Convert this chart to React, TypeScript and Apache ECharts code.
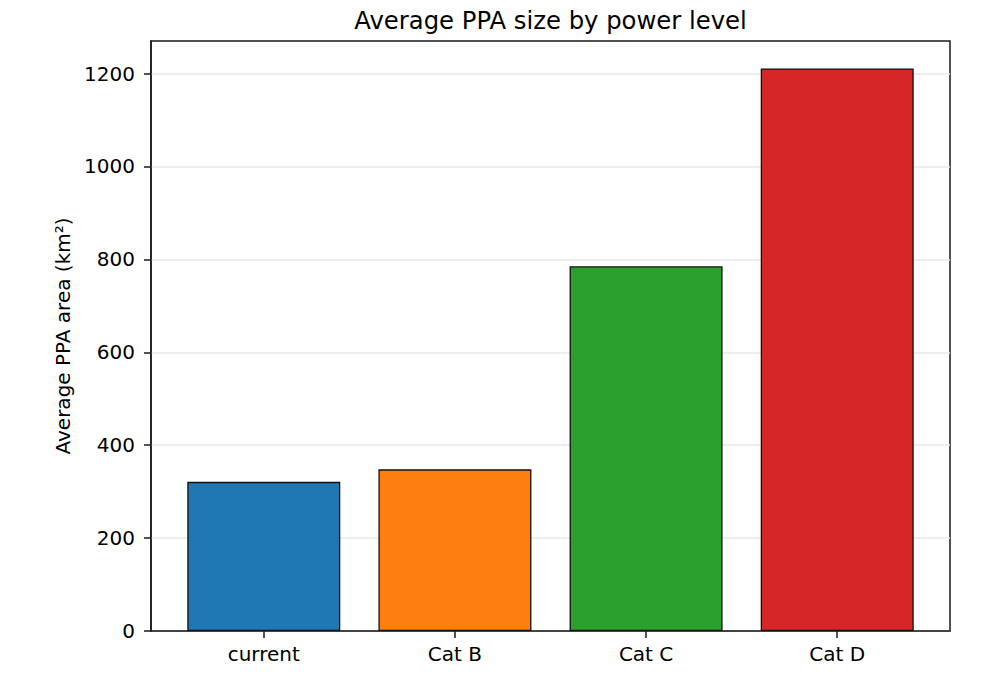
import React, { useEffect, useRef } from "react";
import * as echarts from "echarts";

const categories = ["current", "Cat B", "Cat C", "Cat D"];
const values = [321, 348, 785, 1211];
const colors = ["#1f77b4", "#ff7f0e", "#2ca02c", "#d62728"];
const yTicks = [0, 200, 400, 600, 800, 1000, 1200];
const xTicks = [0, 1, 2, 3];

const FONT = "DejaVu Sans";

export default function App() {
  const ref = useRef<HTMLDivElement>(null);
  useEffect(() => {
    const chart = echarts.init(ref.current!, null, { renderer: "svg" });
    chart.setOption({
      animation: false,
      backgroundColor: "#ffffff",
      textStyle: { fontFamily: FONT },
      grid: {
        left: 151,
        top: 41,
        right: 42,
        bottom: 57,
        show: true,
        borderColor: "#1a1a1a",
        borderWidth: 1.5,
        backgroundColor: "transparent",
      },
      graphic: [
        {
          type: "text",
          x: 550.5,
          y: 20,
          style: {
            text: "Average PPA size by power level",
            textAlign: "center",
            textVerticalAlign: "middle",
            fontFamily: FONT,
            fontSize: 24.3,
            fill: "#000",
          },
        },
      ],
      xAxis: {
        type: "value",
        min: -0.59,
        max: 3.59,
        axisLine: { show: true, onZero: false, lineStyle: { color: "#1a1a1a", width: 1.5 } },
        axisTick: {
          show: true,
          length: 7,
          customValues: xTicks,
          lineStyle: { color: "#1a1a1a", width: 1.5 },
        },
        axisLabel: {
          customValues: xTicks,
          formatter: (v: number) => categories[Math.round(v)] ?? "",
          fontFamily: FONT,
          fontSize: 20,
          color: "#000",
          margin: 13,
        },
        splitLine: { show: false },
      },
      yAxis: {
        type: "value",
        min: 0,
        max: 1270,
        interval: 200,
        name: "Average PPA area (km²)",
        nameLocation: "middle",
        nameGap: 68,
        nameTextStyle: { fontFamily: FONT, fontSize: 20, color: "#000" },
        axisLine: { show: true, onZero: false, lineStyle: { color: "#1a1a1a", width: 1.5 } },
        axisTick: {
          show: true,
          length: 7,
          customValues: yTicks,
          lineStyle: { color: "#1a1a1a", width: 1.5 },
        },
        axisLabel: {
          customValues: yTicks,
          formatter: (v: number) => String(v),
          fontFamily: FONT,
          fontSize: 20,
          color: "#000",
          margin: 16,
        },
        splitLine: { show: true, lineStyle: { color: "#e8e8e8", width: 1.5 } },
      },
      series: [
        {
          type: "bar",
          barWidth: 153,
          data: values.map((v, i) => ({
            value: [i, v],
            itemStyle: { color: colors[i], borderColor: "#111", borderWidth: 1.3 },
          })),
        },
      ],
    });
    return () => chart.dispose();
  }, []);
  return (
    <div
      ref={ref}
      style={{ position: "absolute", left: 0, top: 0, width: 992, height: 688 }}
    />
  );
}
